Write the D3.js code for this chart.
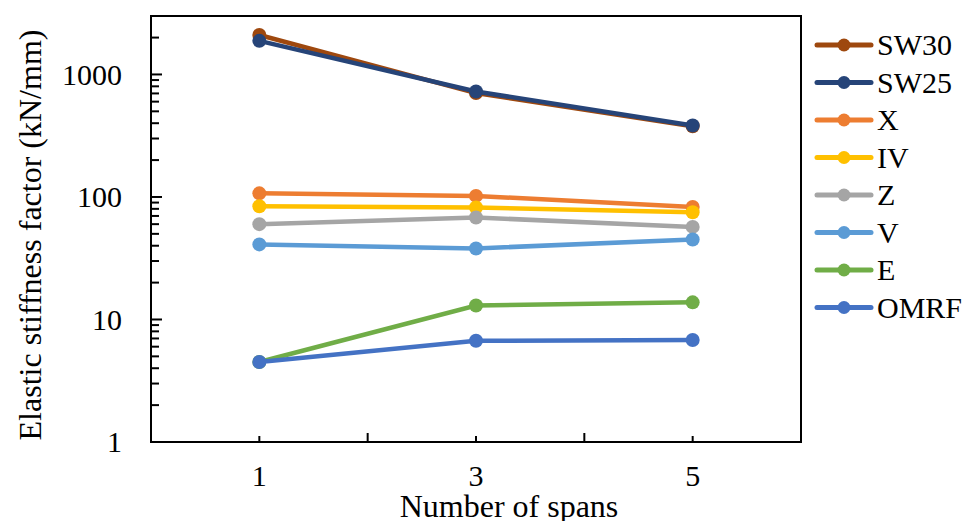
<!DOCTYPE html>
<html>
<head>
<meta charset="utf-8">
<script src="https://cdn.jsdelivr.net/npm/d3@7"></script>
</head>
<body style="margin:0">
<div id="spansPlot"></div>
<script>
const spans = [1, 3, 5]
const seriesNames = ["SW30", "SW25", "X", "IV", "Z", "V", "E", "OMRF"]
const seriesColors = ["#9e480e", "#264478", "#ed7d31", "#ffc000", "#a5a5a5", "#5b9bd5", "#70ad47", "#4472c4"]
const sw30 = [2100, 705, 378]
const sw25 = [1880, 725, 383]
const xFrame = [107, 102, 83]
const ivFrame = [84, 82, 75]
const zFrame = [60, 68, 57]
const vFrame = [41, 38, 45]
const eFrame = [4.5, 13, 13.8]
const omrf = [4.5, 6.7, 6.8]
const yTickValues = [1, 10, 100, 1000]
const xTickLabels = [1, 3, 5]

const seriesValues = [sw30, sw25, xFrame, ivFrame, zFrame, vFrame, eFrame, omrf]

function addText(parent, size) {
    return parent.append("text")
        .style("font-family", "'Liberation Serif'", "important")
        .style("font-size", size + "px", "important")
        .style("fill", "black")
}

function drawChart() {
    const width = 966
    const height = 521
    const plot = {left: 151, right: 801, top: 16, bottom: 442}

    const svg = d3.select("#spansPlot")
        .append("svg")
        .attr("width", width)
        .attr("height", height)
        .style("display", "block")

    const x = d3.scaleLinear()
        .domain([0, 6])
        .range([plot.left, plot.right])

    const y = d3.scaleLog()
        .domain([1, 3000])
        .range([plot.bottom, plot.top])

    // minor y ticks (2..9 of every decade), pointing inside
    let minorY = []
    for (let d = 1; d < 3000; d *= 10) {
        for (let k = 2; k <= 9; k++) {
            if (d * k < 3000) minorY.push(d * k)
        }
    }
    svg.append("g")
        .selectAll("line")
        .data(minorY)
        .enter()
        .append("line")
        .attr("x1", plot.left)
        .attr("x2", plot.left + 8)
        .attr("y1", d => y(d))
        .attr("y2", d => y(d))
        .attr("stroke", "black")
        .attr("stroke-width", 2)

    svg.append("g")
        .selectAll("line")
        .data(yTickValues)
        .enter()
        .append("line")
        .attr("x1", plot.left)
        .attr("x2", plot.left + 11)
        .attr("y1", d => y(d))
        .attr("y2", d => y(d))
        .attr("stroke", "black")
        .attr("stroke-width", 2)

    const yLabels = svg.append("g")
    yTickValues.forEach(v => {
        addText(yLabels, 30)
            .attr("x", 122)
            .attr("y", y(v))
            .attr("dy", "0.34em")
            .attr("text-anchor", "end")
            .text(v)
    })

    // x ticks: short at 1,3,5 and longer at 2,4
    svg.append("g")
        .selectAll("line")
        .data([1, 2, 3, 4, 5])
        .enter()
        .append("line")
        .attr("x1", d => x(d))
        .attr("x2", d => x(d))
        .attr("y1", plot.bottom)
        .attr("y2", d => plot.bottom - (d % 2 === 0 ? 9 : 6))
        .attr("stroke", "black")
        .attr("stroke-width", 2)

    const xLabels = svg.append("g")
    xTickLabels.forEach(v => {
        addText(xLabels, 30)
            .attr("x", x(v))
            .attr("y", 486)
            .attr("text-anchor", "middle")
            .text(v)
    })

    // plot box
    svg.append("rect")
        .attr("x", plot.left)
        .attr("y", plot.top)
        .attr("width", plot.right - plot.left)
        .attr("height", plot.bottom - plot.top)
        .attr("fill", "none")
        .attr("stroke", "black")
        .attr("stroke-width", 2)

    // axis titles
    addText(svg, 32)
        .attr("x", 509)
        .attr("y", 517)
        .attr("text-anchor", "middle")
        .text("Number of spans")

    addText(svg, 32)
        .attr("transform", "translate(41,235) rotate(-90)")
        .attr("text-anchor", "middle")
        .text("Elastic stiffness factor (kN/mm)")

    // series
    const line = d3.line()
        .x((d, i) => x(spans[i]))
        .y(d => y(d))

    seriesValues.forEach((vals, s) => {
        const g = svg.append("g")
        g.append("path")
            .attr("d", line(vals))
            .attr("fill", "none")
            .attr("stroke", seriesColors[s])
            .attr("stroke-width", 4.5)
        g.selectAll("circle")
            .data(vals)
            .enter()
            .append("circle")
            .attr("cx", (d, i) => x(spans[i]))
            .attr("cy", d => y(d))
            .attr("r", 7)
            .style("fill", seriesColors[s])
    })

    // legend
    seriesNames.forEach((name, i) => {
        const row = svg.append("g")
            .attr("transform", "translate(0," + (45 + i * 37.5) + ")")
        row.append("line")
            .attr("x1", 817)
            .attr("x2", 871)
            .attr("stroke", seriesColors[i])
            .attr("stroke-width", 5)
            .attr("stroke-linecap", "round")
        row.append("circle")
            .attr("cx", 844)
            .attr("r", 6.5)
            .style("fill", seriesColors[i])
        addText(row, 30)
            .attr("x", 877)
            .attr("dy", "0.34em")
            .text(name)
    })
}

drawChart()
</script>
</body>
</html>
